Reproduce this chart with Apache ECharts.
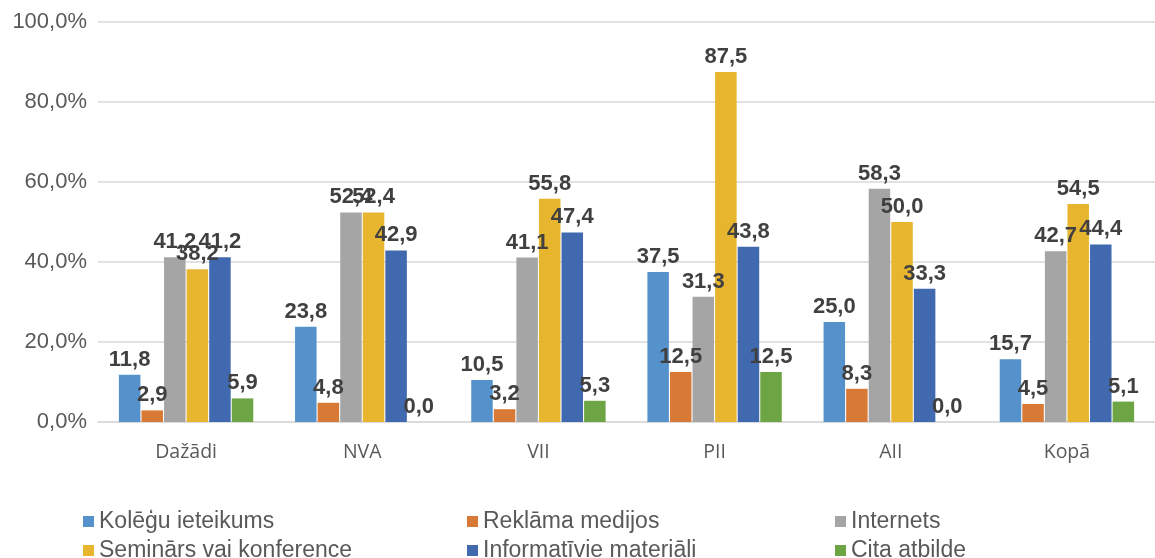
<!DOCTYPE html>
<html>
<head>
<meta charset="utf-8">
<script src="https://cdn.jsdelivr.net/npm/echarts@6/dist/echarts.min.js"></script>
<style>html,body{margin:0;padding:0;background:#fff;}</style>
</head>
<body>
<div id="chart" style="width:1155px;height:558px;"></div>
<script>
// kategorijas un sērijas
var categories = ['Dažādi', 'NVA', 'VII', 'PII', 'AII', 'Kopā'];
var seriesNames = ['Kolēģu ieteikums', 'Reklāma medijos', 'Internets', 'Seminārs vai konference', 'Informatīvie materiāli', 'Cita atbilde'];
var colegu = [11.8, 23.8, 10.5, 37.5, 25.0, 15.7];
var reklama = [2.9, 4.8, 3.2, 12.5, 8.3, 4.5];
var internets = [41.2, 52.4, 41.1, 31.3, 58.3, 42.7];
var seminars = [38.2, 52.4, 55.8, 87.5, 50.0, 54.5];
var informativie = [41.2, 42.9, 47.4, 43.8, 33.3, 44.4];
var cita = [5.9, 0.0, 5.3, 12.5, 0.0, 5.1];
var colors = ['#5592CB', '#D87A35', '#A5A5A5', '#E8B52E', '#4169B0', '#6DA544'];
var values = [colegu, reklama, internets, seminars, informativie, cita];

var chart = echarts.init(document.getElementById('chart'));

var series = seriesNames.map(function (name, i) {
    return {
        name: name,
        type: 'bar',
        data: values[i],
        barWidth: 21.5,
        barGap: '5%',
        itemStyle: { color: colors[i] },
        label: {
            show: true,
            position: 'top',
            distance: 4,
            fontFamily: 'Liberation Sans, Arial',
            fontWeight: 'bold',
            fontSize: 22,
            color: '#404040',
            formatter: function (p) { return p.value.toFixed(1).replace('.', ','); }
        }
    };
});

// leģenda: trīs kolonnas pa divām rindām
function legendCol(left, names) {
    return {
        orient: 'vertical',
        left: left,
        top: 505,
        height: 80,
        itemWidth: 11,
        itemHeight: 11,
        itemGap: 6,
        icon: 'rect',
        data: names,
        textStyle: { fontFamily: 'Liberation Sans, Arial', fontSize: 23, color: '#595959' }
    };
}

var option = {
    animation: false,
    color: colors,
    grid: { left: 98, top: 22, width: 1066, bottom: 136 },
    legend: [
        legendCol(78, [seriesNames[0], seriesNames[3]]),
        legendCol(462, [seriesNames[1], seriesNames[4]]),
        legendCol(830, [seriesNames[2], seriesNames[5]])
    ],
    xAxis: {
        type: 'category',
        data: categories,
        axisTick: { show: false },
        axisLine: { lineStyle: { color: '#d9d9d9', width: 1.5 } },
        axisLabel: { fontFamily: 'Open Sans, Noto Sans', fontSize: 19.5, color: '#595959', margin: 20 }
    },
    yAxis: {
        type: 'value',
        min: 0,
        max: 100,
        interval: 20,
        axisLabel: {
            fontFamily: 'Liberation Sans, Arial',
            fontSize: 22,
            color: '#595959',
            margin: 11,
            formatter: function (v) { return v.toFixed(1).replace('.', ',') + '%'; }
        },
        splitLine: { lineStyle: { color: '#d9d9d9', width: 1.5 } }
    },
    series: series
};

chart.setOption(option);
</script>
</body>
</html>
